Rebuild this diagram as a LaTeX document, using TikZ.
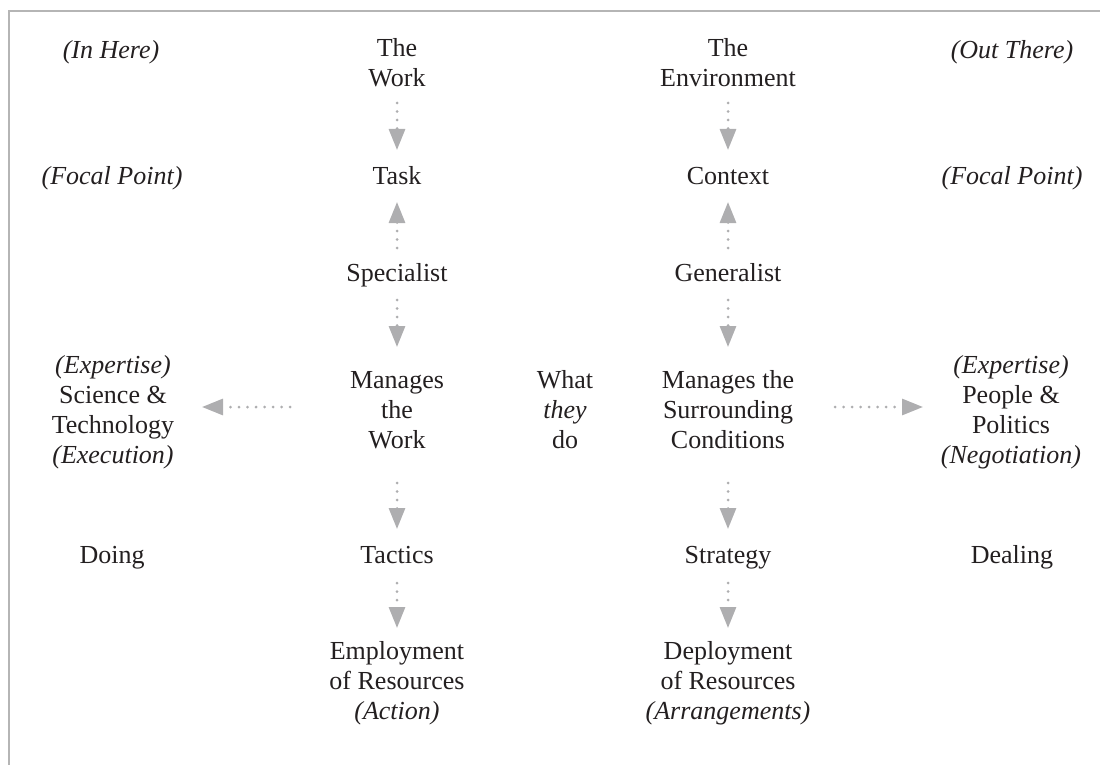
\documentclass[tikz,border=0pt]{standalone}
\usepackage{fontspec}
\setmainfont{Liberation Serif}
\usetikzlibrary{arrows.meta}
\definecolor{ink}{HTML}{231F20}
\definecolor{framegray}{HTML}{B5B5B5}
\definecolor{arrowgray}{HTML}{AEAEB0}
\begin{document}
\begin{tikzpicture}[x=1pt,y=-1pt,
  lbl/.style={align=center, text=ink, inner sep=0pt,
    font=\fontsize{26}{30}\selectfont,
    execute at begin node=\strut, execute at end node=\strut},
  flow/.style={draw=arrowgray, line width=3pt, line cap=round,
    dash pattern=on 0pt off 8.5pt,
    -{Triangle[length=21pt,width=16pt,fill=arrowgray]}},
  frameline/.style={draw=framegray, line width=2pt}]
\useasboundingbox (0,0) rectangle (1100,765);
\coordinate (ftop) at (1100,11);
\coordinate (fcorner) at (9,11);
\coordinate (fbottom) at (9,765);
\draw[frameline] (ftop) -- (fcorner) -- (fbottom);

% row 1
\node[lbl] (inhere) at (111,53) {\textit{(In Here)}};
\node[lbl] (work) at (397,67) {The\\Work};
\node[lbl] (env) at (728,67) {The\\Environment};
\node[lbl] (outthere) at (1012,53) {\textit{(Out There)}};
% row 2
\node[lbl] (focalL) at (112,178) {\textit{(Focal Point)}};
\node[lbl] (task) at (397,178) {Task};
\node[lbl] (context) at (728,178) {Context};
\node[lbl] (focalR) at (1012,178) {\textit{(Focal Point)}};
% row 3
\node[lbl] (spec) at (397,275) {Specialist};
\node[lbl] (gen) at (728,275) {Generalist};
% row 4
\node[lbl] (sci) at (113,414) {\textit{(Expertise)}\\Science \&\\Technology\\\textit{(Execution)}};
\node[lbl] (manW) at (397,414) {Manages\\the\\Work};
\node[lbl] (what) at (565,414) {What\\\textit{they}\\do};
\node[lbl] (manC) at (728,414) {Manages the\\Surrounding\\Conditions};
\node[lbl] (people) at (1011,414) {\textit{(Expertise)}\\People \&\\Politics\\\textit{(Negotiation)}};
% row 5
\node[lbl] (doing) at (112,557) {Doing};
\node[lbl] (tactics) at (397,557) {Tactics};
\node[lbl] (strategy) at (728,557) {Strategy};
\node[lbl] (dealing) at (1012,557) {Dealing};
% row 6
\node[lbl] (employ) at (397,685) {Employment\\of Resources\\\textit{(Action)}};
\node[lbl] (deploy) at (728,685) {Deployment\\of Resources\\\textit{(Arrangements)}};

% left column arrows
\draw[flow, shorten <=36pt, shorten >=28pt] (work.center) -- (task.center);
\draw[flow, shorten <=27pt, shorten >=24pt] (spec.center) -- (task.center);
\draw[flow, shorten <=25pt, shorten >=67pt] (spec.center) -- (manW.center);
\draw[flow, shorten <=69pt, shorten >=28pt] (manW.center) -- (tactics.center);
\draw[flow, shorten <=26pt, shorten >=57pt] (tactics.center) -- (employ.center);
% right column arrows
\draw[flow, shorten <=36pt, shorten >=28pt] (env.center) -- (context.center);
\draw[flow, shorten <=27pt, shorten >=24pt] (gen.center) -- (context.center);
\draw[flow, shorten <=25pt, shorten >=67pt] (gen.center) -- (manC.center);
\draw[flow, shorten <=69pt, shorten >=28pt] (manC.center) -- (strategy.center);
\draw[flow, shorten <=26pt, shorten >=57pt] (strategy.center) -- (deploy.center);
% horizontal arrows
\draw[flow, shorten <=107pt, shorten >=89pt] ([yshift=7pt]manW.center) -- ([yshift=7pt]sci.center);
\draw[flow, shorten <=107pt, shorten >=88pt] ([yshift=7pt]manC.center) -- ([yshift=7pt]people.center);
\end{tikzpicture}
\end{document}
